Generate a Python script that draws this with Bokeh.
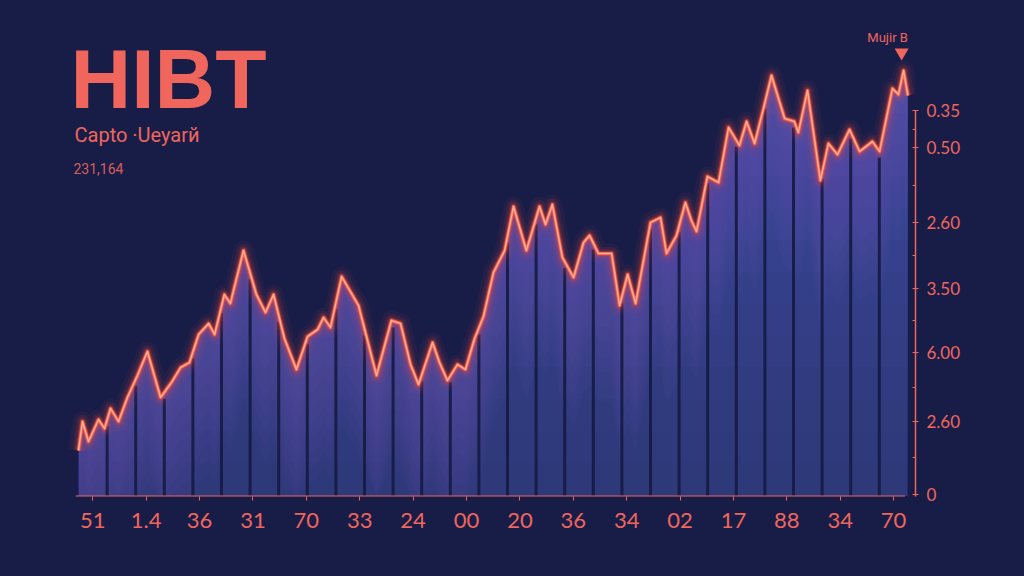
import numpy as np
from bokeh.plotting import figure
from bokeh.models import FixedTicker, Range1d
from bokeh.core.properties import value
from bokeh.embed import file_html
from bokeh.resources import INLINE

# ---------------- data ----------------
series_x = [0.00, 0.14, 0.35, 0.70, 0.91, 1.12, 1.40, 1.71, 2.06, 2.41, 2.87, 3.25, 3.57, 3.88,
            4.20, 4.55, 4.76, 5.10, 5.31, 5.77, 6.22, 6.54, 6.82, 7.20, 7.62, 8.01, 8.36, 8.57,
            8.81, 9.20, 9.79, 10.42, 10.94, 11.26, 11.61, 11.89, 12.38, 12.62, 12.90, 13.25,
            13.53, 13.85, 14.16, 14.51, 14.90, 15.21, 15.66, 16.12, 16.33, 16.57, 16.92, 17.31,
            17.66, 17.87, 18.18, 18.64, 18.92, 19.20, 19.48, 20.00, 20.35, 20.56, 20.91, 21.22,
            21.43, 21.61, 21.99, 22.38, 22.73, 23.11, 23.36, 23.64, 23.95, 24.23, 24.69, 25.03,
            25.17, 25.49, 25.94, 26.22, 26.54, 26.96, 27.31, 27.76, 28.01, 28.46, 28.67, 28.85,
            29.00]
series_y = [10.80, 17.61, 12.91, 18.08, 15.96, 20.66, 17.61, 23.24, 28.40, 34.04, 23.24, 26.76,
            30.28, 31.46, 38.03, 40.61, 38.03, 47.42, 45.31, 57.75, 47.42, 43.19, 47.42, 37.09,
            29.81, 37.56, 39.20, 42.02, 39.67, 51.64, 44.84, 28.40, 41.31, 40.61, 30.99, 26.29,
            36.15, 31.46, 27.23, 30.99, 29.81, 37.09, 42.25, 52.58, 57.75, 68.08, 57.75, 68.08,
            63.85, 68.54, 56.10, 51.41, 59.62, 61.27, 57.04, 57.04, 44.84, 52.11, 45.31, 64.32,
            65.49, 57.04, 61.27, 69.01, 64.79, 62.21, 75.12, 73.71, 86.62, 82.39, 88.03, 82.86,
            91.08, 98.83, 88.73, 88.03, 85.45, 95.31, 74.18, 82.86, 80.28, 86.15, 80.99, 83.33,
            80.99, 95.77, 94.37, 100.00, 94.13]
n_columns = 29

x_tick_labels = ["51", "1.4", "36", "31", "70", "33", "24", "00",
                 "20", "36", "34", "02", "17", "88", "34", "70"]
y_tick_values = [0.5, 17.6, 33.8, 48.8, 64.3, 81.9, 90.6]
y_tick_labels = ["0", "2.60", "6.00", "3.50", "2.60", "0.50", "0.35"]

title_text = "HIBT"
subtitle_text = "Capto ·Ueyarй"
sub2_text = "231,164"
marker_text = "Mujir B"

# ---------------- styling ----------------
BG = "#181d48"
SALMON = "#f0665c"
FILL = "#3a4b9b"
PURPLE = "#7e5cb4"
DARK = "#141a3e"

W, H = 1024, 576
PX_PER_X = 28.6
PX_PER_Y = 4.26
X0_PAGE, Y0_PAGE = 78, 496
AXIS_PX = 915


def px2x(px):
    return (px - X0_PAGE) / PX_PER_X


def py2y(py):
    return (Y0_PAGE - py) / PX_PER_Y


x = np.array(series_x)
y = np.array(series_y)

p = figure(width=W, height=H, output_backend="svg", toolbar_location=None,
           x_range=Range1d(px2x(0), px2x(AXIS_PX)), y_range=Range1d(0, py2y(0)),
           y_axis_location="right",
           min_border_left=0, min_border_top=0,
           min_border_right=W - AXIS_PX, min_border_bottom=H - Y0_PAGE)
p.background_fill_color = BG
p.border_fill_color = BG
p.outline_line_color = None
p.grid.visible = False

# area fill
p.varea(x=x, y1=np.zeros_like(y), y2=y, fill_color=FILL, fill_alpha=1.0)
# darker toward the bottom
for h in np.linspace(8, 90, 12):
    p.varea(x=x, y1=np.zeros_like(y), y2=np.minimum(y, h), fill_color=DARK, fill_alpha=0.03)
# purple tint just under the line
for d in np.linspace(3, 35, 10):
    p.varea(x=x, y1=np.maximum(y - d, 0), y2=y, fill_color=PURPLE, fill_alpha=0.06)

# column separators
cols = np.arange(1, n_columns)
tops = np.interp(cols, x, y) - 1.5
p.segment(x0=cols, y0=np.zeros_like(tops), x1=cols, y1=tops, line_color="#161b46",
          line_width=3, line_alpha=0.95)

# glowing line
for w, a in [(20, 0.05), (13, 0.09), (8, 0.16), (5, 0.35)]:
    p.line(x, y, line_color="#ff4c3a", line_width=w, line_alpha=a, line_join="round")
p.line(x, y, line_color="#ff6a52", line_width=3, line_join="round")
p.line(x, y, line_color="#ffbfa4", line_width=1.2, line_alpha=0.9, line_join="round")

# x axis baseline (drawn over the data extent)
p.line([float(x[0]) - 0.1, float(x[-1]) - 0.1], [0, 0], line_color=SALMON, line_width=2)

# axes
label_pos = [0.5 + i * (n_columns - 1) / (len(x_tick_labels) - 1) for i in range(len(x_tick_labels))]
p.xaxis.ticker = FixedTicker(ticks=label_pos)
p.xaxis.major_label_overrides = {v: t for v, t in zip(label_pos, x_tick_labels)}
p.xaxis.axis_line_color = None
p.xaxis.major_tick_line_color = SALMON
p.xaxis.major_tick_in = 0
p.xaxis.major_tick_out = 4
p.xaxis.minor_tick_line_color = None
p.xaxis.major_label_text_color = SALMON
p.xaxis.major_label_text_font = "Lato"
p.xaxis.major_label_text_font_size = "22px"
p.xaxis.major_label_standoff = 12

minor = [(a + b) / 2 for a, b in zip(y_tick_values[:-1], y_tick_values[1:])]
p.yaxis.ticker = FixedTicker(ticks=y_tick_values, minor_ticks=minor)
p.yaxis.major_label_overrides = {v: t for v, t in zip(y_tick_values, y_tick_labels)}
p.yaxis.bounds = (0.0, float(y_tick_values[-1]))
p.yaxis.axis_line_color = SALMON
p.yaxis.axis_line_width = 1.5
p.yaxis.major_tick_line_color = SALMON
p.yaxis.major_tick_in = 3
p.yaxis.major_tick_out = 3
p.yaxis.minor_tick_line_color = SALMON
p.yaxis.minor_tick_in = 3
p.yaxis.minor_tick_out = 0
p.yaxis.major_label_text_color = SALMON
p.yaxis.major_label_text_font = "Lato"
p.yaxis.major_label_text_font_size = "17px"
p.yaxis.major_label_standoff = 8

# texts (vertically centred on the glyphs)
p.text(x=[px2x(70)], y=[py2y(78)], text=[title_text], text_font=value("Liberation Sans"),
       text_font_style="bold", text_font_size="84px", text_color=SALMON,
       text_baseline="middle", text_align="left")
p.text(x=[px2x(74)], y=[py2y(134)], text=[subtitle_text], text_font=value("Roboto"),
       text_font_size="20px", text_color=SALMON, text_baseline="middle", text_align="left")
p.text(x=[px2x(73)], y=[py2y(168)], text=[sub2_text], text_font=value("Roboto"),
       text_font_size="14px", text_color=SALMON, text_alpha=0.9,
       text_baseline="middle", text_align="left")
peak_i = int(np.argmax(y))
p.text(x=[float(x[peak_i]) + px2x(887) - px2x(903)], y=[py2y(37)], text=[marker_text],
       text_font=value("Roboto"), text_font_size="13px", text_color=SALMON,
       text_align="center", text_baseline="middle")
p.scatter(x=[float(x[peak_i]) + px2x(901) - px2x(903)], y=[py2y(52)],
          marker="inverted_triangle", size=14, fill_color=SALMON, line_color=None)

html = file_html(p, INLINE)
css = "<style>html, body { margin: 0 !important; background: %s !important; }</style>" % BG
if "</head>" in html:
    html = html.replace("</head>", css + "</head>", 1)
else:
    html = css + html
open("out.html", "w").write(html)
